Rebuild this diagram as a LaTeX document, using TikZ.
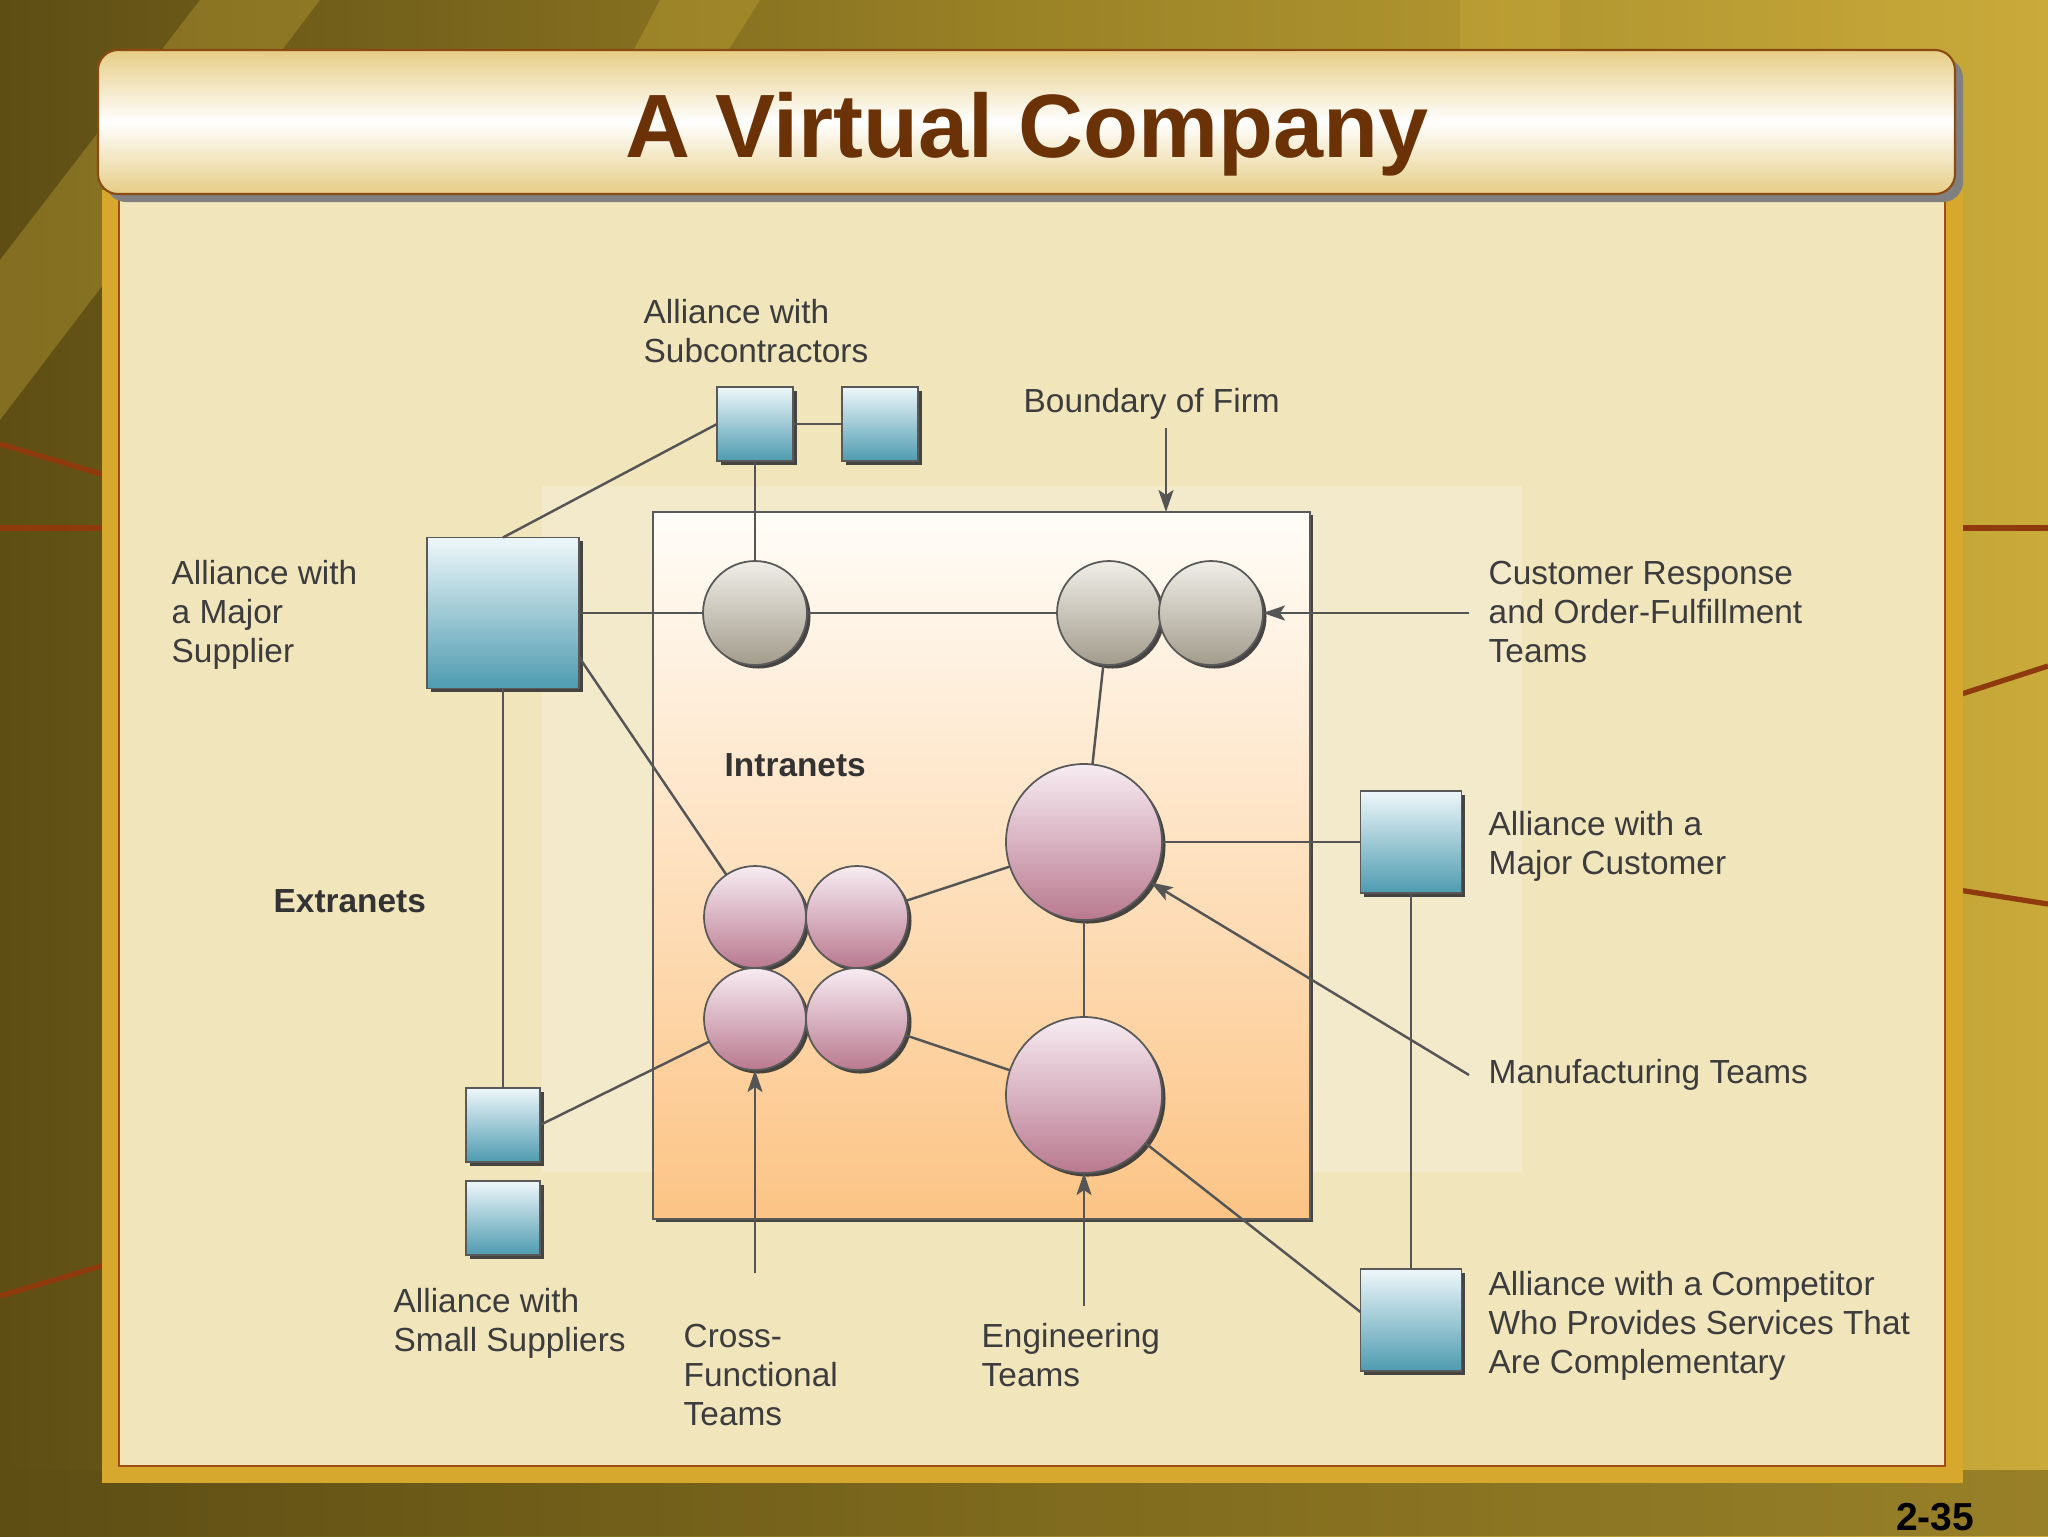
\documentclass[tikz,border=0pt]{standalone}
\usepackage{fontspec}
\setmainfont{Liberation Sans}
\usetikzlibrary{calc,shadows,arrows.meta}
\definecolor{bgdark}{HTML}{5E4E14}
\definecolor{bgmid}{HTML}{9A8226}
\definecolor{bgbright}{HTML}{C9AA3A}
\definecolor{decobrown}{HTML}{8E3A0C}
\definecolor{goldframe}{HTML}{D6A92E}
\definecolor{panelcream}{HTML}{F1E5BC}
\definecolor{panellight}{HTML}{F6F0DA}
\definecolor{panelbrown}{HTML}{A04E16}
\definecolor{titlegold}{HTML}{E6CD85}
\definecolor{titlebrown}{HTML}{6A3206}
\definecolor{titleedge}{HTML}{8A4A12}
\definecolor{sqtop}{HTML}{EEF7FA}
\definecolor{sqbot}{HTML}{4E9BB0}
\definecolor{greytop}{HTML}{F0EEE8}
\definecolor{greybot}{HTML}{A29C8C}
\definecolor{pinktop}{HTML}{F7ECF2}
\definecolor{pinkbot}{HTML}{B9798F}
\definecolor{firmtop}{HTML}{FFFDF8}
\definecolor{firmbot}{HTML}{FCC485}
\definecolor{txtgrey}{HTML}{3C3C3C}
\definecolor{linegrey}{HTML}{555555}
\newcommand\mylines[1]{\begin{tabular}[t]{@{}l@{}}#1\end{tabular}}
\begin{document}
\begin{tikzpicture}[x=0.1mm,y=-0.1mm,
  shapeshadow/.style={drop shadow={shadow xshift=0.35mm,shadow yshift=-0.35mm,opacity=0.9,fill=black!80}},
  sq/.style={rectangle,draw=black!65,line width=0.5pt,top color=sqtop,bottom color=sqbot,inner sep=0pt,outer sep=0pt,shapeshadow},
  greyc/.style={circle,draw=black!65,line width=0.5pt,top color=greytop,bottom color=greybot,inner sep=0pt,outer sep=0pt,minimum size=10.4mm,shapeshadow},
  pinkc/.style={circle,draw=black!65,line width=0.5pt,top color=pinktop,bottom color=pinkbot,inner sep=0pt,outer sep=0pt,shapeshadow},
  conn/.style={draw=linegrey,line width=0.7pt},
  ptr/.style={draw=linegrey,line width=0.7pt,-{Stealth[length=2.2mm,width=1.5mm,inset=0.5mm]}},
  lbl/.style={anchor=base west,inner sep=0pt,text=txtgrey,font=\fontsize{9.5}{11.2}\selectfont},
  blbl/.style={lbl,font=\fontsize{9.5}{11.2}\selectfont\bfseries,text=black!80},
  deco/.style={draw=decobrown,line width=1.5pt}
]
\useasboundingbox (0,0) rectangle (2048,1536);
% background
\shade[left color=bgdark,right color=bgbright,middle color=bgmid] (0,0) rectangle (2048,1536);
\fill[bgbright,opacity=0.35] (0,260) -- (200,0) -- (320,0) -- (0,420) -- cycle;
\fill[bgbright,opacity=0.35] (660,0) -- (760,0) -- (640,190) -- (560,190) -- cycle;
\fill[bgbright,opacity=0.4] (1460,0) -- (1560,0) -- (1560,200) -- (1460,200) -- cycle;
\fill[bgdark,opacity=0.45] (0,1470) rectangle (2048,1536);
\draw[deco] (0,444) -- (118,479);
\draw[deco] (0,528) -- (118,528);
\draw[deco] (0,1296) -- (118,1261);
\draw[deco] (1946,528) -- (2048,528);
\draw[deco] (1946,699) -- (2048,666);
\draw[deco] (1946,888) -- (2048,904);
% panel
\fill[goldframe] (102,190) rectangle (1963,1483);
\fill[panelcream,draw=panelbrown,line width=0.6pt] (119,196) rectangle (1945,1466);
\fill[panellight,opacity=0.5] (542,486) rectangle (1522,1172);
% title bar
\fill[black!50,rounded corners=2mm] (106,58) rectangle (1963,202);
\shade[top color=titlegold,bottom color=titlegold,middle color=white,rounded corners=2mm,draw=titleedge,line width=0.6pt] (98,50) rectangle (1955,194);
\node[anchor=base,inner sep=0pt,text=titlebrown,font=\fontsize{25.6}{30}\selectfont\bfseries] (title) at (1027,157) {A Virtual Company};
\node[anchor=base east,inner sep=0pt,font=\fontsize{11.1}{13}\selectfont\bfseries] (pageno) at (1975,1530) {2-35};
% boundary of firm
\node[rectangle,draw=black!65,line width=0.6pt,top color=firmtop,bottom color=firmbot,minimum width=65.7mm,minimum height=70.7mm,inner sep=0pt,outer sep=0pt,drop shadow={shadow xshift=0.3mm,shadow yshift=-0.3mm,opacity=0.9,fill=black!80}] (firm) at (981.5,865.5) {};
% squares
\node[sq,minimum width=15.2mm,minimum height=15.1mm] (sup) at (503,613) {};
\node[sq,minimum width=7.6mm,minimum height=7.4mm] (sub1) at (755,424) {};
\node[sq,minimum width=7.6mm,minimum height=7.4mm] (sub2) at (880,424) {};
\node[sq,minimum width=7.4mm,minimum height=7.4mm] (ss1) at (503,1125) {};
\node[sq,minimum width=7.4mm,minimum height=7.4mm] (ss2) at (503,1218) {};
\node[sq,minimum width=10.1mm,minimum height=10.2mm] (mc) at (1411,842) {};
\node[sq,minimum width=10.1mm,minimum height=10.2mm] (comp) at (1411,1320) {};
% circles
\node[greyc] (ca) at (755,613) {};
\node[greyc] (cr1) at (1109,613) {};
\node[greyc] (cr2) at (1211,613) {};
\node[pinkc,minimum size=15.6mm] (mf) at (1084,842) {};
\node[pinkc,minimum size=15.6mm] (eng) at (1084,1095) {};
\node[pinkc,minimum size=10.2mm] (cf1) at (755,917) {};
\node[pinkc,minimum size=10.2mm] (cf2) at (857,917) {};
\node[pinkc,minimum size=10.2mm] (cf3) at (755,1019) {};
\node[pinkc,minimum size=10.2mm] (cf4) at (857,1019) {};
% connectors
\draw[conn] (sup.north) -- (sub1.west);
\draw[conn] (sub1.east) -- (sub2.west);
\draw[conn] (sub1.south) -- (ca.north);
\draw[conn] (sup.east) -- (ca.west);
\draw[conn] (ca.east) -- (cr1.west);
\draw[conn] ($(sup.east)+(0,44)$) -- (cf1);
\draw[conn] (sup.south) -- (ss1.north);
\draw[conn] (ss1.east) -- (cf3);
\draw[conn] (cr1) -- (mf);
\draw[conn] (cf2) -- (mf);
\draw[conn] (cf4) -- (eng);
\draw[conn] (mf.south) -- (eng.north);
\draw[conn] (mf.east) -- (mc.west);
\draw[conn] (mc.south) -- (comp.north);
\draw[conn] (eng) -- ($(comp.west)+(0,-8)$);
% pointer arrows
\coordinate (bndtail) at (1166,428);
\coordinate (crtail) at (1469,613);
\coordinate (mftail) at (1469,1075);
\coordinate (cftail) at (755,1273);
\coordinate (engtail) at (1084,1306);
\draw[ptr] (bndtail) -- (bndtail |- firm.north);
\draw[ptr] (crtail) -- (cr2);
\draw[ptr] (mftail) -- (mf);
\draw[ptr] (cftail) -- (cf3);
\draw[ptr] (engtail) -- (eng);
% labels
\node[lbl] (lsub) at (643,323) {\mylines{Alliance with\\Subcontractors}};
\node[lbl] (lbnd) at (1023,412) {Boundary of Firm};
\node[lbl] (lsup) at (171,584) {\mylines{Alliance with\\a Major\\Supplier}};
\node[lbl] (lcr) at (1488,584) {\mylines{Customer Response\\and Order-Fulfillment\\Teams}};
\node[blbl] (lintra) at (724,776) {Intranets};
\node[blbl] (lextra) at (273,912) {Extranets};
\node[lbl] (lmc) at (1488,835) {\mylines{Alliance with a\\Major Customer}};
\node[lbl] (lmf) at (1488,1083) {Manufacturing Teams};
\node[lbl] (lss) at (393,1312) {\mylines{Alliance with\\Small Suppliers}};
\node[lbl] (lcf) at (683,1347) {\mylines{Cross-\\Functional\\Teams}};
\node[lbl] (leng) at (981,1347) {\mylines{Engineering\\Teams}};
\node[lbl] (lcomp) at (1488,1295) {\mylines{Alliance with a Competitor\\Who Provides Services That\\Are Complementary}};
\end{tikzpicture}
\end{document}
